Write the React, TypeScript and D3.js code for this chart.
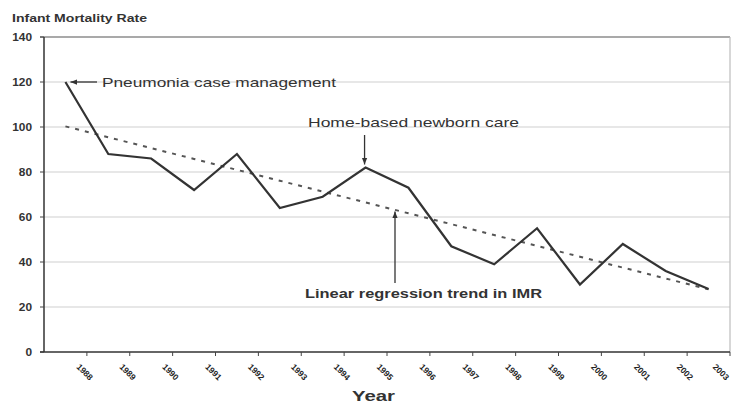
import React from 'react';
import * as d3 from 'd3';

// Infant mortality rate by year
const years = ['1988', '1989', '1990', '1991', '1992', '1993', '1994', '1995',
  '1996', '1997', '1998', '1999', '2000', '2001', '2002', '2003'];
const imr = [120, 88, 86, 72, 88, 64, 69, 82, 73, 47, 39, 55, 30, 48, 36, 28];
const yTicks = [0, 20, 40, 60, 80, 100, 120, 140];

const W = 734;
const H = 404;
const left = 44, right = 730, top = 37, bottom = 352;
const FONT = 'Liberation Sans, Arial, Helvetica, sans-serif';

export default function App() {
  const x = d3.scaleBand<string>().domain(years).range([left, right]).padding(0);
  const y = d3.scaleLinear().domain([0, 140]).range([bottom, top]);
  const cx = (yr: string) => (x(yr) as number) + x.bandwidth() / 2;

  // least squares trend over the series
  const idx = imr.map((_, i) => i);
  const mx = d3.mean(idx) as number;
  const my = d3.mean(imr) as number;
  const sxy = d3.sum(idx, i => (i - mx) * (imr[i] - my));
  const sxx = d3.sum(idx, i => (i - mx) * (i - mx));
  const slope = sxy / sxx;
  const icpt = my - slope * mx;
  const trend = years.map((yr, i) => ({ yr, v: icpt + slope * i }));

  const line = d3.line<number>()
    .x((_, i) => cx(years[i]))
    .y(d => y(d));
  const trendLine = d3.line<{ yr: string; v: number }>()
    .x(d => cx(d.yr))
    .y(d => y(d.v));

  const i1995 = years.indexOf('1995');
  const trendAt = (i: number) => icpt + slope * i;

  return (
    <svg width={W} height={H} style={{ position: 'absolute', left: 0, top: 0, background: '#fff' }}
      fontFamily={FONT}>
      <defs>
        <marker id="ah" viewBox="0 0 10 10" refX="10" refY="5" markerWidth="7" markerHeight="7"
          orient="auto-start-reverse" markerUnits="userSpaceOnUse">
          <path d="M0,1 L10,5 L0,9 z" fill="#333" />
        </marker>
      </defs>

      {/* gridlines */}
      {yTicks.filter(t => t > 0 && t < 140).map(t => (
        <line key={t} x1={left} x2={right} y1={y(t)} y2={y(t)} stroke="#cfcfcf" strokeWidth={1} />
      ))}
      <line x1={left - 4} x2={right} y1={y(140)} y2={y(140)} stroke="#555" strokeWidth={1.2} />
      <line x1={right} x2={right} y1={y(140)} y2={bottom} stroke="#bdbdbd" strokeWidth={1.2} />

      {/* y axis */}
      <line x1={left} x2={left} y1={y(140)} y2={bottom} stroke="#333" strokeWidth={1.5} />
      {yTicks.map(t => (
        <g key={t}>
          <line x1={left - 4} x2={left} y1={y(t)} y2={y(t)} stroke="#444" />
          <text x={32} y={y(t) + 3.5} textAnchor="end" fontSize={10} fontWeight="bold" fill="#333"
            textLength={String(t).length * 6.6} lengthAdjust="spacingAndGlyphs">{t}</text>
        </g>
      ))}

      {/* x axis */}
      <line x1={left - 4} x2={right} y1={bottom} y2={bottom} stroke="#333" strokeWidth={1.5} />
      {years.map((yr, i) => {
        const bx = (x(yr) as number) + x.bandwidth();
        const lx = Math.min(bx - 2, W - 13);
        return (
          <g key={yr}>
            <line x1={bx} x2={bx} y1={bottom} y2={bottom + 4} stroke="#444" />
            <text transform={`translate(${lx},${372}) rotate(45)`} textAnchor="middle"
              dy="0.35em" fontSize={8.5} fontWeight="bold" fill="#222">{yr}</text>
          </g>
        );
      })}

      {/* trend */}
      <path d={trendLine(trend) as string} fill="none" stroke="#555" strokeWidth={2}
        strokeDasharray="4,6" />
      {/* series */}
      <path d={line(imr) as string} fill="none" stroke="#333" strokeWidth={2.2} strokeLinejoin="miter" />

      {/* titles */}
      <text x={12} y={22} fontSize={10.5} fontWeight="bold" fill="#333" textLength={135}
        lengthAdjust="spacingAndGlyphs">Infant Mortality Rate</text>
      <text x={352} y={401} fontSize={15} fontWeight="bold" fill="#333" textLength={43}
        lengthAdjust="spacingAndGlyphs">Year</text>

      {/* annotations */}
      <line x1={97} x2={cx(years[0]) + 5} y1={y(imr[0])} y2={y(imr[0])} stroke="#333" strokeWidth={1.3}
        markerEnd="url(#ah)" />
      <text x={102} y={y(imr[0]) + 5} fontSize={13} fill="#333" textLength={234}
        lengthAdjust="spacingAndGlyphs">Pneumonia case management</text>

      <text x={308} y={127} fontSize={13.5} fill="#333" textLength={211}
        lengthAdjust="spacingAndGlyphs">Home-based newborn care</text>
      <line x1={cx(years[i1995]) - 1} x2={cx(years[i1995]) - 1} y1={135} y2={y(imr[i1995]) - 3}
        stroke="#333" strokeWidth={1.3} markerEnd="url(#ah)" />

      <line x1={395} x2={395} y1={283} y2={y(trendAt(7.65)) + 2} stroke="#333" strokeWidth={1.3}
        markerEnd="url(#ah)" />
      <text x={305} y={298} fontSize={13} fontWeight="bold" fill="#333" textLength={237}
        lengthAdjust="spacingAndGlyphs">Linear regression trend in IMR</text>
    </svg>
  );
}
